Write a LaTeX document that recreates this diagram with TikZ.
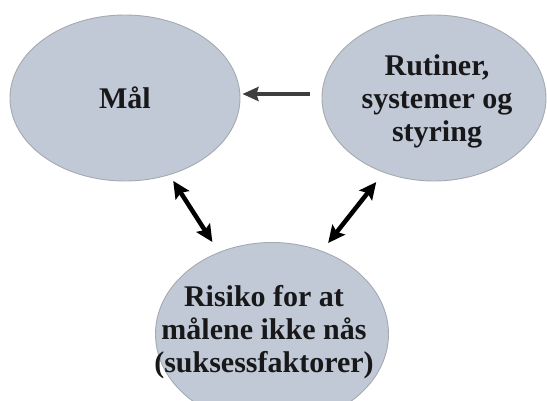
\documentclass[tikz,border=0pt]{standalone}
\usepackage{fontspec}
\setmainfont{Liberation Serif}
\definecolor{ellipsefill}{RGB}{192,201,213}
\definecolor{ellipseline}{RGB}{165,170,176}
\definecolor{textdark}{RGB}{24,24,26}
\definecolor{arrowgray}{RGB}{62,62,62}
\usetikzlibrary{positioning,shapes.geometric,arrows.meta}

\begin{document}
\begin{tikzpicture}[x=1pt,y=-1pt,
    blob/.style={ellipse, fill=ellipsefill, draw=ellipseline, line width=0.9pt, inner sep=0pt},
    blobtext/.style={text=textdark, font=\fontsize{30}{33}\selectfont\bfseries, align=center, inner sep=0pt},
    twoway/.style={line width=4.5pt, black, {Stealth[length=17pt,width=16pt,inset=3pt]}-{Stealth[length=17pt,width=16pt,inset=3pt]}},
    oneway/.style={line width=4pt, arrowgray, -{Stealth[length=16pt,width=14pt,inset=2pt]}}]
    % Canvas
    \clip (0,0) rectangle (547,400);

    % Ellipses
    \node[blob, minimum width=230pt, minimum height=166pt] (mal) at (125,98) {};
    \node[blob, minimum width=224pt, minimum height=166pt] (rutiner) at (434,98) {};
    \node[blob, minimum width=233pt, minimum height=183pt] (risiko) at (272,334) {};

    % Texts
    \node[blobtext] (malTxt) at (mal.center) {Mål};
    \node[blobtext] (rutinerTxt) at ([xshift=3pt,yshift=-3pt]rutiner.center) {Rutiner,\\systemer og\\styring};
    \node[blobtext] (risikoTxt) at ([xshift=-8pt,yshift=2pt]risiko.center) {Risiko for at\\målene ikke nås\\(suksessfaktorer)};

    % Arrows
    \draw[oneway, shorten <=12pt, shorten >=2pt] ([yshift=4pt]rutiner.west) -- ([yshift=4pt]mal.east);
    \draw[twoway, shorten <=7pt, shorten >=12pt] (mal.-60) -- (risiko.123);
    \draw[twoway, shorten <=12pt, shorten >=10pt] (rutiner.236) -- (risiko.59);
\end{tikzpicture}
\end{document}
